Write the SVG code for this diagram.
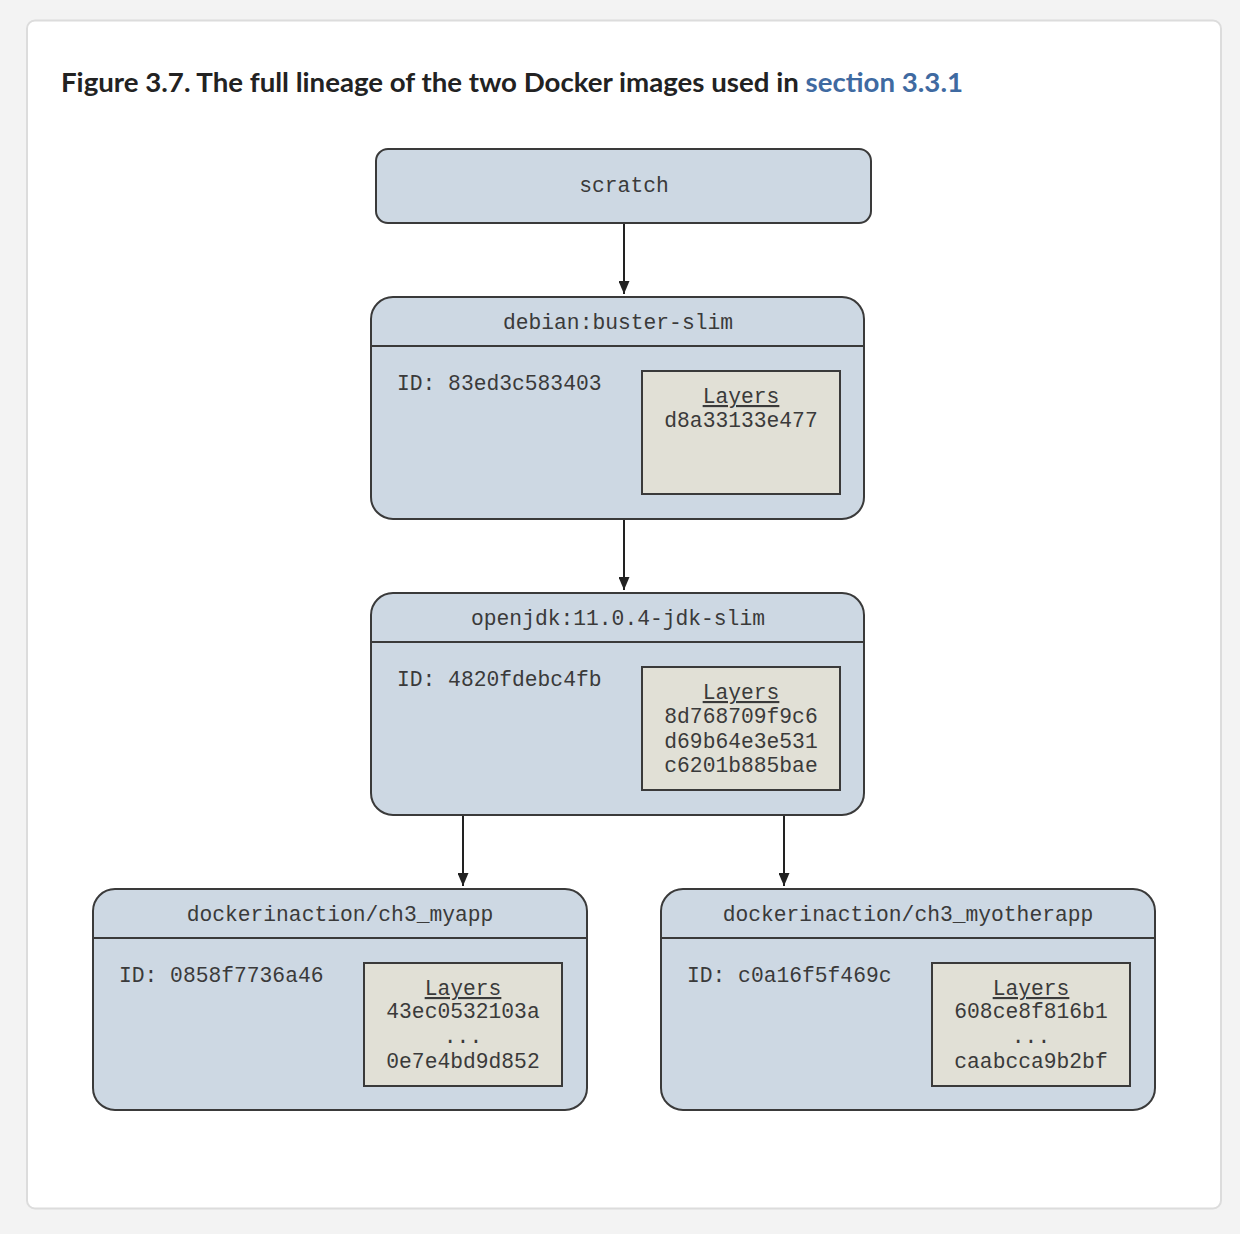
<svg xmlns="http://www.w3.org/2000/svg" width="1240" height="1234" viewBox="0 0 1240 1234">
<defs>
<marker id="ah" markerWidth="13" markerHeight="11" refX="13" refY="5.5" orient="auto" markerUnits="userSpaceOnUse" viewBox="0 0 13 11">
<path d="M0,0 L13,5.5 L0,11 Z" fill="#222"/>
</marker>
</defs>
<style>
.node{fill:#cdd8e3;stroke:#3a3a3a;stroke-width:2}
.sep{stroke:#3a3a3a;stroke-width:2}
.lay{fill:#e1e0d6;stroke:#3a3a3a;stroke-width:2}
.t{font-family:"Liberation Mono","Courier New",monospace;font-size:21.3px;fill:#3a3a3a}
.c{text-anchor:middle}
.u{text-decoration:underline}
.conn{stroke:#222;stroke-width:2;fill:none}
</style>
<rect x="0" y="0" width="1240" height="1234" fill="#f3f3f3"/>
<rect x="27" y="20.5" width="1194" height="1188" rx="8" fill="#ffffff" stroke="#dcdcdc" stroke-width="2"/>
<text x="61" y="92" font-family="Lato,'Liberation Sans',sans-serif" font-weight="bold" font-size="26px" fill="#222" textLength="902" lengthAdjust="spacingAndGlyphs">Figure 3.7. The full lineage of the two Docker images used in <tspan fill="#3f6aa1">section 3.3.1</tspan></text>

<g id="connectors">
<line class="conn" x1="624" y1="223" x2="624" y2="294" marker-end="url(#ah)"/>
<line class="conn" x1="624" y1="519" x2="624" y2="590" marker-end="url(#ah)"/>
<line class="conn" x1="463" y1="815" x2="463" y2="886" marker-end="url(#ah)"/>
<line class="conn" x1="784" y1="815" x2="784" y2="886" marker-end="url(#ah)"/>
</g>

<g id="scratch">
<rect class="node" x="376" y="149" width="495" height="74" rx="12"/>
<text class="t c" x="624" y="192">scratch</text>
</g>

<g id="debian">
<rect class="node" x="371" y="297" width="493" height="222" rx="22"/>
<line class="sep" x1="371" y1="346" x2="864" y2="346"/>
<text class="t c" x="618" y="329">debian:buster-slim</text>
<text class="t" x="397" y="390">ID: 83ed3c583403</text>
<rect class="lay" x="642" y="371" width="198" height="123"/>
<text class="t c u" x="741" y="403">Layers</text>
<text class="t c" x="741" y="427">d8a33133e477</text>
</g>

<g id="openjdk">
<rect class="node" x="371" y="593" width="493" height="222" rx="22"/>
<line class="sep" x1="371" y1="642" x2="864" y2="642"/>
<text class="t c" x="618" y="625">openjdk:11.0.4-jdk-slim</text>
<text class="t" x="397" y="686">ID: 4820fdebc4fb</text>
<rect class="lay" x="642" y="667" width="198" height="123"/>
<text class="t c u" x="741" y="699">Layers</text>
<text class="t c" x="741" y="723">8d768709f9c6</text>
<text class="t c" x="741" y="748">d69b64e3e531</text>
<text class="t c" x="741" y="772">c6201b885bae</text>
</g>

<g id="myapp">
<rect class="node" x="93" y="889" width="494" height="221" rx="22"/>
<line class="sep" x1="93" y1="938" x2="587" y2="938"/>
<text class="t c" x="340" y="921">dockerinaction/ch3_myapp</text>
<text class="t" x="119" y="982">ID: 0858f7736a46</text>
<rect class="lay" x="364" y="963" width="198" height="123"/>
<text class="t c u" x="463" y="995">Layers</text>
<text class="t c" x="463" y="1018">43ec0532103a</text>
<text class="t c" x="463" y="1043">...</text>
<text class="t c" x="463" y="1068">0e7e4bd9d852</text>
</g>

<g id="myotherapp">
<rect class="node" x="661" y="889" width="494" height="221" rx="22"/>
<line class="sep" x1="661" y1="938" x2="1155" y2="938"/>
<text class="t c" x="908" y="921">dockerinaction/ch3_myotherapp</text>
<text class="t" x="687" y="982">ID: c0a16f5f469c</text>
<rect class="lay" x="932" y="963" width="198" height="123"/>
<text class="t c u" x="1031" y="995">Layers</text>
<text class="t c" x="1031" y="1018">608ce8f816b1</text>
<text class="t c" x="1031" y="1043">...</text>
<text class="t c" x="1031" y="1068">caabcca9b2bf</text>
</g>
</svg>
